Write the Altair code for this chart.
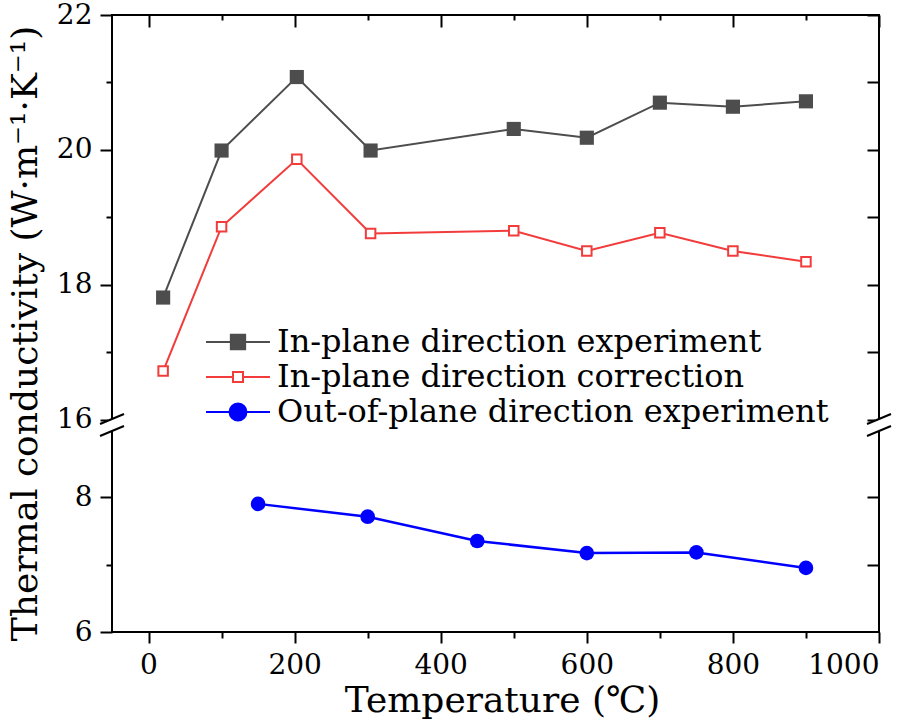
import altair as alt
import pandas as pd

# ---- data ----
names = ["In-plane direction experiment",
         "In-plane direction correction",
         "Out-of-plane direction experiment"]
temp_in = [20, 100, 203, 304, 500, 600, 700, 800, 900]
k_exp = [17.81, 19.99, 21.08, 19.99, 20.31, 20.18, 20.70, 20.64, 20.72]
k_corr = [16.72, 18.86, 19.86, 18.76, 18.80, 18.50, 18.77, 18.50, 18.34]
temp_out = [150, 300, 450, 600, 750, 900]
k_out = [7.90, 7.71, 7.35, 7.17, 7.18, 6.95]

x_major = [0, 200, 400, 600, 800, 1000]
x_minor = [100, 300, 500, 700, 900]
# broken axis: lower part 6..9.15, upper part 16..22 shifted by OFFSET
OFFSET = 6.85
y_major = [6, 8, 16 - OFFSET, 18 - OFFSET, 20 - OFFSET, 22 - OFFSET]
y_minor = [7, 17 - OFFSET, 19 - OFFSET, 21 - OFFSET]
y_right = [7, 8] + [v - OFFSET for v in [16, 17, 18, 19, 20, 21, 22]]

GRAY, RED, BLUE = "#4d4d4d", "#f23c3c", "#0000ff"
FONT = "DejaVu Serif"

df_exp = pd.DataFrame({"T": temp_in, "value": k_exp, "series": names[0], "panel": "upper"})
df_corr = pd.DataFrame({"T": temp_in, "value": k_corr, "series": names[1], "panel": "upper"})
df_out = pd.DataFrame({"T": temp_out, "value": k_out, "series": names[2], "panel": "lower"})
df_all = pd.concat([df_exp, df_corr, df_out], ignore_index=True)

disp_expr = f"datum.panel == 'upper' ? datum.value - {OFFSET} : datum.value"
xs = alt.Scale(domain=[-50, 1000], nice=False, zero=False)
ys = alt.Scale(domain=[6, 22 - OFFSET], nice=False, zero=False)

common_axis = dict(labelFont=FONT, labelFontSize=28, labelColor="black",
                   tickColor="black", tickWidth=2, domain=False, grid=False,
                   titleFont=FONT, titleFontSize=36, titleFontWeight="normal",
                   titleColor="black")


def base(df):
    return alt.Chart(df).transform_calculate(disp=disp_expr)


# x/y axes carried by the individual layers
ax_bottom = alt.Axis(values=x_major, tickSize=11, labelPadding=8, title="Temperature (℃)",
                     titleX=390, titleY=68, titleBaseline="middle", titleAlign="center",
                     format="d", **common_axis)
ax_left = alt.Axis(values=y_major, tickSize=12, labelPadding=8,
                   labelExpr=f"datum.value > 9.1 ? format(datum.value + {OFFSET}, '.0f') : format(datum.value, '.0f')",
                   title="Thermal conductivity (W·m⁻¹·K⁻¹)", titleAngle=270,
                   titleX=-87, titleY=318, titleBaseline="middle", titleAlign="center",
                   orient="left", **common_axis)
ax_bottom_minor = alt.Axis(values=x_minor, tickSize=6, labels=False, title=None,
                           orient="bottom", **common_axis)
ax_left_minor = alt.Axis(values=y_minor, tickSize=6, labels=False, title=None,
                         orient="left", **common_axis)
ax_top = alt.Axis(values=x_major, tickSize=12, offset=-12, labels=False, title=None,
                  orient="top", **common_axis)
ax_right = alt.Axis(values=y_right, tickSize=12, offset=-12, labels=False, title=None,
                    orient="right", **common_axis)
ax_top_minor = alt.Axis(values=x_minor, tickSize=5, offset=-5, labels=False, title=None,
                        orient="top", **common_axis)

line_exp = base(df_exp).mark_line(color=GRAY, strokeWidth=2).encode(
    x=alt.X("T:Q", scale=xs, axis=ax_bottom),
    y=alt.Y("disp:Q", scale=ys, axis=ax_left))
line_corr = base(df_corr).mark_line(color=RED, strokeWidth=2).encode(
    x=alt.X("T:Q", scale=xs, axis=ax_bottom_minor),
    y=alt.Y("disp:Q", scale=ys, axis=ax_left_minor))
line_out = base(df_out).mark_line(color=BLUE, strokeWidth=2.5).encode(
    x=alt.X("T:Q", scale=xs, axis=ax_top),
    y=alt.Y("disp:Q", scale=ys, axis=ax_right))
pts_exp = base(df_exp).mark_point(shape="square", filled=True, size=200, color=GRAY, opacity=1).encode(
    x=alt.X("T:Q", scale=xs, axis=ax_top_minor),
    y=alt.Y("disp:Q", scale=ys, axis=None))
pts_corr = base(df_corr).mark_point(shape="square", filled=True, size=90, fill="white",
                                    stroke=RED, strokeWidth=2, opacity=1).encode(
    x=alt.X("T:Q", scale=xs, axis=None),
    y=alt.Y("disp:Q", scale=ys, axis=None))
pts_out = base(df_out).mark_point(shape="circle", filled=True, size=215, color=BLUE, opacity=1).encode(
    x=alt.X("T:Q", scale=xs, axis=None),
    y=alt.Y("disp:Q", scale=ys, axis=None))

# legend source (invisible marks, visible legend with line+marker symbols)
L = 2.46
path_sq = f"M-{L},0H{L}M-0.55,-0.55H0.55V0.55H-0.55Z"
path_osq = f"M-{L},0H-0.385M0.385,0H{L}M-0.385,-0.385H0.385V0.385H-0.385Z"
path_ci = f"M-{L},0H{L}M0.65,0A0.65,0.65,0,1,1,-0.65,0A0.65,0.65,0,1,1,0.65,0Z"
leg = alt.Legend(title=None, orient="none", legendX=110, legendY=311,
                 labelFont=FONT, labelFontSize=32, labelColor="black", labelLimit=0,
                 symbolSize=676, labelOffset=23, rowPadding=3, padding=0,
                 symbolOpacity=1, symbolStrokeWidth=2)
legend_layer = base(df_all).mark_point(opacity=0, strokeWidth=2).encode(
    x=alt.X("T:Q", scale=xs, axis=None),
    y=alt.Y("disp:Q", scale=ys, axis=None),
    shape=alt.Shape("series:N", scale=alt.Scale(domain=names, range=[path_sq, path_osq, path_ci]), legend=leg),
    fill=alt.Fill("series:N", scale=alt.Scale(domain=names, range=[GRAY, "white", BLUE]), legend=leg),
    stroke=alt.Stroke("series:N", scale=alt.Scale(domain=names, range=[GRAY, RED, BLUE]), legend=leg),
)

# axis-break decorations
one = alt.Data(values=[{}])
W = 767
def cover(x0):
    return alt.Chart(one).mark_rect(color="white").encode(
        x=alt.value(x0 - 4), x2=alt.value(x0 + 4), y=alt.value(404), y2=alt.value(416))
def slash(x0, y0):
    return alt.Chart(one).mark_rule(color="black", strokeWidth=2).encode(
        x=alt.value(x0 - 12), x2=alt.value(x0 + 12), y=alt.value(y0 + 5), y2=alt.value(y0 - 5))
breaks = [cover(0), cover(W), slash(0, 404), slash(0, 416), slash(W, 404), slash(W, 416)]

chart = alt.layer(line_exp, line_corr, line_out, pts_exp, pts_corr, pts_out, legend_layer, *breaks).resolve_axis(
    x="independent", y="independent"
).properties(
    width=767, height=617, autosize="none",
    padding={"left": 112, "top": 15, "right": 41, "bottom": 96},
    background="white",
).configure_view(stroke="black", strokeWidth=2)

chart.save("out.html", embed_options={"renderer": "svg", "actions": False})
